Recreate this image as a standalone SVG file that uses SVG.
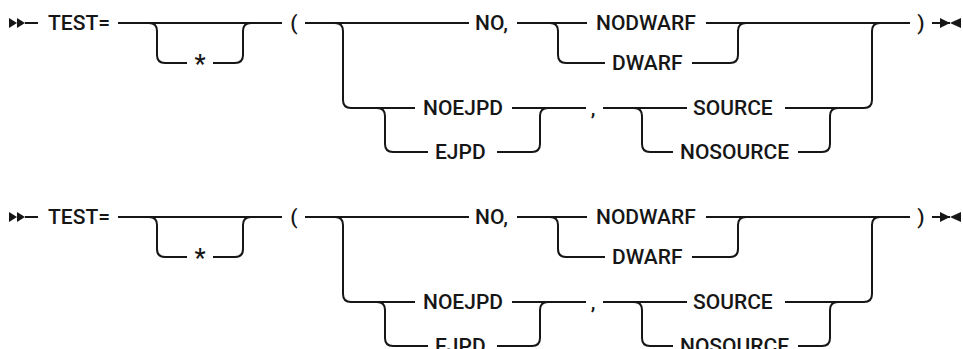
<svg xmlns="http://www.w3.org/2000/svg" width="963" height="349" viewBox="0 0 963 349">
<style>
.l{fill:none;stroke:#161616;stroke-width:2}
.t{font-family:Roboto,"Liberation Sans",sans-serif;font-weight:500;font-size:21px;fill:#161616}
.s{font-size:25px}
.m{fill:#161616}
</style>
<rect width="963" height="349" fill="#fff"/>
<g id="syntax1">
<g id="connectors1">
<polygon class="m" points="9,18 17,23 9,28"/>
<polygon class="m" points="17,18 25,23 17,28"/>
<path class="l" d="M25,23H38"/>
<path class="l" d="M118,23H282"/>
<path class="l" d="M149,23Q157,23 157,31V55Q157,63 165,63H187"/>
<path class="l" d="M213,63H235Q243,63 243,55V31Q243,23 251,23"/>
<path class="l" d="M305,23H469"/>
<path class="l" d="M335,23Q343,23 343,31V100Q343,108 351,108H415"/>
<path class="l" d="M377,108Q385,108 385,116V144Q385,152 393,152H428"/>
<path class="l" d="M497,152H532Q540,152 540,144V116Q540,108 548,108"/>
<path class="l" d="M512,108H586"/>
<path class="l" d="M517,23H587"/>
<path class="l" d="M550,23Q558,23 558,31V55Q558,63 566,63H605"/>
<path class="l" d="M692,63H730Q738,63 738,55V31Q738,23 746,23"/>
<path class="l" d="M706,23H910"/>
<path class="l" d="M603,108H687"/>
<path class="l" d="M634,108Q642,108 642,116V144Q642,152 650,152H673"/>
<path class="l" d="M798,152H822Q830,152 830,144V116Q830,108 838,108"/>
<path class="l" d="M785,108H864Q872,108 872,100V31Q872,23 880,23"/>
<path class="l" d="M932,23H950"/>
<polygon class="m" points="940,18 950,23 940,28"/>
<polygon class="m" points="961,18 950,23 961,28"/>
</g>
<g id="test1"><text class="t" x="48" y="30">TEST=</text></g>
<g id="star1"><text class="t s" x="200" y="73" text-anchor="middle">*</text></g>
<g id="lp1"><text class="t" x="294" y="30" text-anchor="middle">(</text></g>
<g id="no1"><text class="t" x="475" y="30">NO,</text></g>
<g id="nodwarf1"><text class="t" x="596" y="30">NODWARF</text></g>
<g id="dwarf1"><text class="t" x="612" y="70">DWARF</text></g>
<g id="noejpd1"><text class="t" x="423" y="115">NOEJPD</text></g>
<g id="ejpd1"><text class="t" x="435" y="159">EJPD</text></g>
<g id="comma1"><text class="t" x="593" y="115" text-anchor="middle">,</text></g>
<g id="source1"><text class="t" x="693" y="115">SOURCE</text></g>
<g id="nosource1"><text class="t" x="680" y="159">NOSOURCE</text></g>
<g id="rp1"><text class="t" x="921" y="30" text-anchor="middle">)</text></g>
</g>
<g id="syntax2" transform="translate(0,194)">
<g id="connectors2">
<polygon class="m" points="9,18 17,23 9,28"/>
<polygon class="m" points="17,18 25,23 17,28"/>
<path class="l" d="M25,23H38"/>
<path class="l" d="M118,23H282"/>
<path class="l" d="M149,23Q157,23 157,31V55Q157,63 165,63H187"/>
<path class="l" d="M213,63H235Q243,63 243,55V31Q243,23 251,23"/>
<path class="l" d="M305,23H469"/>
<path class="l" d="M335,23Q343,23 343,31V100Q343,108 351,108H415"/>
<path class="l" d="M377,108Q385,108 385,116V144Q385,152 393,152H428"/>
<path class="l" d="M497,152H532Q540,152 540,144V116Q540,108 548,108"/>
<path class="l" d="M512,108H586"/>
<path class="l" d="M517,23H587"/>
<path class="l" d="M550,23Q558,23 558,31V55Q558,63 566,63H605"/>
<path class="l" d="M692,63H730Q738,63 738,55V31Q738,23 746,23"/>
<path class="l" d="M706,23H910"/>
<path class="l" d="M603,108H687"/>
<path class="l" d="M634,108Q642,108 642,116V144Q642,152 650,152H673"/>
<path class="l" d="M798,152H822Q830,152 830,144V116Q830,108 838,108"/>
<path class="l" d="M785,108H864Q872,108 872,100V31Q872,23 880,23"/>
<path class="l" d="M932,23H950"/>
<polygon class="m" points="940,18 950,23 940,28"/>
<polygon class="m" points="961,18 950,23 961,28"/>
</g>
<g id="test2"><text class="t" x="48" y="30">TEST=</text></g>
<g id="star2"><text class="t s" x="200" y="73" text-anchor="middle">*</text></g>
<g id="lp2"><text class="t" x="294" y="30" text-anchor="middle">(</text></g>
<g id="no2"><text class="t" x="475" y="30">NO,</text></g>
<g id="nodwarf2"><text class="t" x="596" y="30">NODWARF</text></g>
<g id="dwarf2"><text class="t" x="612" y="70">DWARF</text></g>
<g id="noejpd2"><text class="t" x="423" y="115">NOEJPD</text></g>
<g id="ejpd2"><text class="t" x="435" y="159">EJPD</text></g>
<g id="comma2"><text class="t" x="593" y="115" text-anchor="middle">,</text></g>
<g id="source2"><text class="t" x="693" y="115">SOURCE</text></g>
<g id="nosource2"><text class="t" x="680" y="159">NOSOURCE</text></g>
<g id="rp2"><text class="t" x="921" y="30" text-anchor="middle">)</text></g>
</g>
</svg>
